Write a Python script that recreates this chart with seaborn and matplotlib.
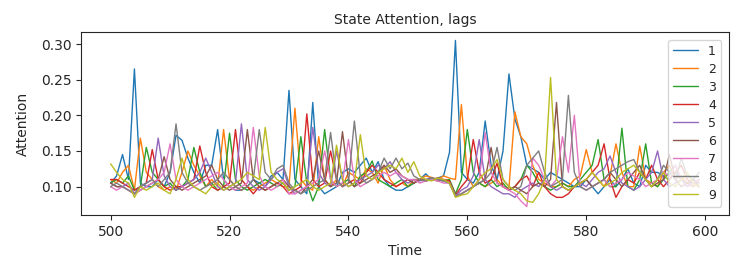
import numpy as np
import pandas as pd
import matplotlib
matplotlib.use("Agg")
import matplotlib.pyplot as plt
import seaborn as sns

time = list(range(500, 600))

lag1 = [.105, .115, .145, .11, .265, .105, .10, .10, .11, .10,
        .12, .172, .165, .14, .12, .105, .13, .13, .18, .11,
        .10, .095, .095, .10, .11, .105, .10, .115, .12, .11,
        .235, .11, .10, .09, .218, .10, .09, .095, .10, .12,
        .125, .12, .13, .14, .12, .135, .11, .10, .095, .095,
        .10, .105, .11, .118, .11, .112, .115, .148, .305, .12,
        .11, .105, .12, .192, .13, .11, .15, .258, .195, .17,
        .13, .125, .12, .11, .12, .115, .11, .105, .10, .10,
        .11, .10, .09, .10, .11, .10, .11, .125, .105, .10,
        .13, .12, .12, .115, .11, .12, .11, .105, .10, .11]

lag2 = [.11, .105, .12, .13, .095, .168, .12, .11, .10, .095,
        .10, .095, .12, .15, .13, .115, .10, .11, .10, .18,
        .11, .10, .095, .10, .095, .10, .105, .11, .105, .10,
        .10, .21, .11, .10, .095, .17, .11, .10, .11, .10,
        .12, .115, .11, .125, .12, .105, .13, .11, .10, .105,
        .10, .11, .11, .115, .113, .11, .115, .112, .11, .215,
        .115, .10, .105, .10, .105, .11, .10, .098, .205, .17,
        .16, .13, .11, .105, .10, .10, .105, .10, .11, .115,
        .152, .12, .11, .10, .115, .16, .12, .10, .10, .157,
        .11, .105, .10, .12, .13, .11, .115, .105, .10, .11]

lag3 = [.105, .11, .105, .115, .095, .10, .155, .12, .11, .10,
        .105, .095, .10, .11, .155, .12, .10, .105, .095, .10,
        .175, .11, .10, .095, .10, .105, .11, .105, .10, .105,
        .095, .10, .17, .105, .08, .10, .18, .11, .10, .105,
        .11, .10, .115, .12, .136, .11, .105, .10, .105, .11,
        .10, .105, .11, .11, .112, .11, .108, .11, .09, .11,
        .18, .12, .105, .10, .11, .10, .105, .095, .10, .11,
        .13, .12, .105, .10, .095, .10, .105, .10, .10, .11,
        .12, .13, .166, .11, .10, .10, .182, .10, .095, .11,
        .16, .105, .10, .11, .12, .13, .11, .10, .105, .10]

lag4 = [.11, .11, .105, .10, .095, .10, .105, .152, .11, .10,
        .095, .10, .10, .105, .11, .157, .12, .10, .095, .10,
        .105, .18, .11, .10, .09, .10, .095, .10, .105, .10,
        .09, .095, .10, .202, .11, .10, .105, .15, .11, .10,
        .105, .11, .105, .12, .13, .12, .11, .105, .10, .105,
        .11, .105, .11, .108, .11, .112, .11, .108, .088, .10,
        .11, .166, .12, .105, .11, .133, .10, .095, .10, .11,
        .115, .10, .12, .10, .09, .085, .085, .09, .10, .105,
        .11, .12, .13, .16, .11, .085, .10, .11, .105, .12,
        .11, .13, .11, .10, .11, .12, .13, .11, .105, .10]

lag5 = [.105, .10, .10, .105, .09, .10, .105, .11, .168, .115,
        .10, .095, .10, .105, .11, .12, .14, .12, .10, .095,
        .10, .105, .188, .11, .10, .095, .10, .11, .12, .125,
        .10, .09, .095, .10, .183, .12, .105, .10, .15, .11,
        .10, .105, .11, .115, .12, .13, .125, .135, .12, .11,
        .105, .11, .108, .11, .112, .11, .108, .105, .087, .095,
        .10, .115, .166, .11, .10, .095, .09, .09, .085, .095,
        .10, .105, .10, .11, .10, .095, .10, .095, .10, .105,
        .10, .11, .12, .125, .143, .12, .105, .10, .095, .10,
        .11, .12, .15, .11, .10, .105, .11, .10, .11, .105]

lag6 = [.105, .10, .10, .095, .09, .095, .10, .105, .11, .142,
        .11, .10, .095, .10, .105, .11, .115, .13, .11, .10,
        .095, .10, .105, .18, .11, .10, .095, .10, .105, .11,
        .10, .095, .09, .10, .11, .15, .11, .10, .105, .177,
        .11, .10, .105, .11, .115, .12, .13, .12, .125, .115,
        .11, .105, .11, .108, .11, .108, .11, .105, .087, .09,
        .095, .10, .105, .11, .155, .105, .10, .095, .10, .095,
        .09, .10, .105, .10, .11, .218, .10, .095, .10, .105,
        .11, .10, .105, .11, .12, .11, .10, .11, .12, .13,
        .11, .10, .105, .11, .145, .11, .10, .105, .11, .10]

lag7 = [.10, .095, .10, .095, .09, .095, .10, .105, .11, .12,
        .16, .11, .10, .095, .10, .105, .11, .115, .12, .11,
        .10, .095, .10, .105, .183, .115, .10, .095, .10, .11,
        .09, .09, .095, .10, .105, .11, .15, .11, .10, .105,
        .166, .11, .10, .105, .11, .115, .12, .115, .12, .115,
        .11, .11, .105, .108, .11, .108, .105, .105, .087, .09,
        .095, .10, .11, .176, .12, .105, .10, .095, .09, .08,
        .072, .14, .13, .11, .10, .11, .17, .12, .20, .10,
        .095, .10, .105, .11, .10, .105, .11, .12, .115, .11,
        .10, .105, .11, .12, .115, .13, .11, .10, .105, .11]

lag8 = [.10, .105, .10, .095, .09, .10, .105, .11, .10, .11,
        .12, .188, .12, .105, .10, .095, .10, .105, .11, .12,
        .11, .10, .095, .10, .11, .18, .12, .11, .125, .13,
        .105, .095, .09, .095, .10, .105, .11, .176, .11, .10,
        .105, .192, .115, .105, .11, .12, .14, .125, .14, .125,
        .133, .115, .11, .108, .112, .11, .108, .105, .087, .09,
        .095, .10, .105, .11, .12, .155, .11, .10, .095, .10,
        .13, .14, .15, .12, .10, .105, .11, .228, .12, .10,
        .095, .10, .105, .11, .12, .125, .13, .135, .138, .12,
        .11, .10, .11, .13, .12, .11, .14, .115, .11, .12]

lag9 = [.132, .12, .11, .105, .085, .10, .095, .10, .105, .095,
        .09, .11, .14, .11, .10, .095, .09, .10, .105, .095,
        .10, .105, .11, .12, .115, .11, .183, .12, .11, .105,
        .095, .10, .105, .11, .10, .095, .10, .105, .158, .11,
        .10, .105, .173, .115, .11, .12, .125, .13, .125, .14,
        .12, .135, .115, .11, .108, .112, .11, .105, .085, .088,
        .09, .10, .11, .12, .125, .138, .11, .10, .095, .09,
        .08, .078, .09, .11, .253, .11, .10, .095, .10, .105,
        .11, .12, .11, .10, .105, .11, .12, .125, .13, .12,
        .11, .10, .11, .12, .105, .10, .11, .12, .105, .10]

lag_labels = ["1", "2", "3", "4", "5", "6", "7", "8", "9"]
series = [lag1, lag2, lag3, lag4, lag5, lag6, lag7, lag8, lag9]

frames = []
for lab, vals in zip(lag_labels, series):
    assert len(vals) == len(time), (lab, len(vals))
    frames.append(pd.DataFrame({"Time": time, "Attention": vals, "lag": lab}))
df = pd.concat(frames, ignore_index=True)

sns.set_style("ticks")
plt.rcParams["font.family"] = ["DejaVu Sans"]

fig = plt.figure(figsize=(7.45, 2.7), dpi=100)
ax = fig.add_axes([0.109, 0.204, 0.869, 0.677])
sns.lineplot(data=df, x="Time", y="Attention", hue="lag", hue_order=lag_labels,
             palette="tab10", linewidth=1.0, ax=ax)
ax.set_title("State Attention, lags", fontsize=10)
ax.set_xlabel("Time", fontsize=10)
ax.set_ylabel("Attention", fontsize=10, labelpad=8)
ax.tick_params(labelsize=10)
ax.set_xticks([500, 520, 540, 560, 580, 600])
ax.set_yticks([0.10, 0.15, 0.20, 0.25, 0.30])
ax.set_xlim(495.05, 603.95)
for s in ax.spines.values():
    s.set_visible(True)
leg = ax.legend(loc="upper right", fontsize=9, title=None, labelspacing=0.4,
                handlelength=2.0, borderaxespad=0.6)
fig.savefig("out.png", dpi=100)
